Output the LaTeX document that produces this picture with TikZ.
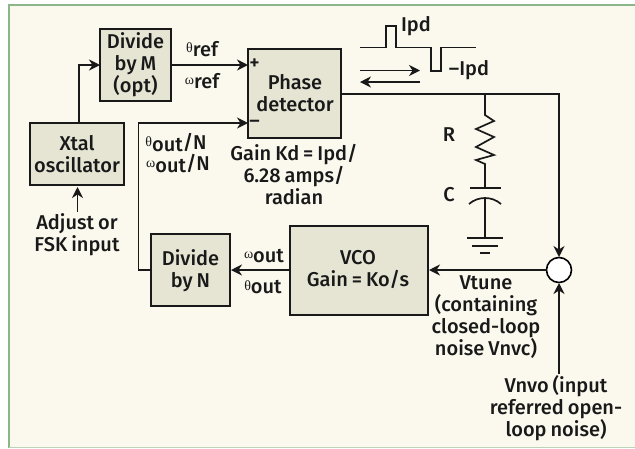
\documentclass[tikz,border=0pt]{standalone}
\usepackage{fontspec}
\setmainfont{Fira Sans Medium}[WordSpace=0.8]
\newfontfamily\greekfont{Liberation Serif}
\usetikzlibrary{arrows.meta}
\definecolor{paper}{HTML}{FBF9EE}
\definecolor{boxfill}{HTML}{E6E5D4}
\definecolor{framegreen}{HTML}{8DB58A}
\newcommand{\grk}[1]{\raisebox{3.5pt}{\greekfont\fontsize{14}{14}\selectfont #1}}
\tikzset{
	txt/.style={font=\fontsize{20}{22}\selectfont, inner sep=0pt, align=center, text=black!90},
	blockbox/.style={draw=black!90, fill=boxfill, line width=2pt},
	wire/.style={line width=1.7pt, draw=black!90},
	arr/.style={wire, -{Stealth[length=11pt,width=11pt,inset=3.5pt]}},
	thin wire/.style={line width=1.3pt, draw=black!90},
}
\begin{document}
\begin{tikzpicture}[x=1pt,y=-1pt]
	\useasboundingbox (0,0) rectangle (635,448);
	\fill[white] (0,0) rectangle (635,448);
	\fill[paper] (9,5) rectangle (635,447);
	\draw[framegreen, line width=2.2pt] (9,448) -- (9,5) -- (635,5);
	\draw[framegreen!60, line width=1.2pt] (9,447.4) -- (635,447.4);

	% blocks
	\draw[blockbox] (100,29) rectangle (171,101);
	\draw (135.5,65) node[txt] (divm) {Divide\\by M\\(opt)};
	\draw[blockbox] (30,123) rectangle (124,185);
	\draw (77,154.5) node[txt] (xtal) {Xtal\\oscillator};
	\draw[blockbox, line width=1.5pt] (248,49) rectangle (341,138);
	\draw (295,93) node[txt] (pd) {Phase\\detector};
	\draw[blockbox] (151,234) rectangle (230,306);
	\draw (190.5,270.5) node[txt] (divn) {Divide\\by N};
	\draw[blockbox] (290,226) rectangle (428,315);
	\draw (358,269.5) node[txt] (vco) {VCO\\Gain = Ko/s};
	\draw[line width=1.6pt, fill=white] (559,270) circle (12.5);
	\coordinate (sum) at (559,270);

	% ports
	\coordinate (divmw) at (100,65);
	\coordinate (divme) at (171,65);
	\coordinate (xtaln) at (79,123);
	\coordinate (xtals) at (77.5,187);
	\coordinate (pdplus) at (248,65);
	\coordinate (pdminus) at (248,123);
	\coordinate (pdout) at (341,94);
	\coordinate (divnw) at (151,270);
	\coordinate (divne) at (231,270);
	\coordinate (vcow) at (290,270);
	\coordinate (vcoe) at (429,270);
	\coordinate (sumw) at (546.5,270);
	\coordinate (sumn) at (559,257);
	\coordinate (sums) at (559,283);
	\coordinate (vnvo) at (559,374);
	\coordinate (adj) at (77.5,212);
	\coordinate (corner) at (559,94);
	\coordinate (tap) at (485,94);
	\coordinate (gnd) at (485,238);

	% signal path
	\draw[arr] (xtaln) |- (divmw);
	\draw[arr] (divme) -- (pdplus);
	\draw[arr] (divnw) -- (138.5,270) |- (pdminus);
	\draw[arr] (pdout) -- (corner) -- (sumn);
	\draw[arr] (sumw) -- (vcoe);
	\draw[arr] (vcow) -- (divne);
	\draw[arr] (vnvo) -- (sums);
	\draw[arr] (adj) -- (xtals);

	% R, C and ground
	\draw[wire] (tap) -- (485,115) -- (494,121) -- (476,129) -- (494,137) -- (476,147) -- (494,155) -- (476,160) -- (485,164) -- (485,188);
	\draw[wire] (470,188) -- (501,188);
	\draw[wire] (469,204) .. controls (478,196) and (492,196) .. (501,204);
	\draw[wire] (485,198) -- (gnd);
	\draw[wire] (467,238) -- (503,238);
	\draw[wire] (472,246) -- (498,246);
	\draw[wire] (480,253) -- (490,253);

	% pulses
	\draw[thin wire] (360,47.5) -- (386,47.5) -- (386,26) -- (396,26) -- (396,47.5) -- (431,47.5) -- (431,71) -- (441,71) -- (441,47.5) -- (476,47.5);
	\coordinate (fwda) at (360,70.5);
	\coordinate (fwdb) at (420,70.5);
	\coordinate (revb) at (360,82);
	\coordinate (reva) at (420,82);
	\draw[arr, thin wire] (fwda) -- (fwdb);
	\draw[arr, thin wire] (reva) -- (revb);

	% labels
	\draw (416,26) node[txt] (ipd) {Ipd};
	\draw (469,70) node[txt] (mipd) {--Ipd};
	\draw (449,135) node[txt] (rlab) {R};
	\draw (449,195) node[txt] (clab) {C};
	\draw (254.5,64) node[txt] (plus) {+};
	\draw (254.5,124) node[txt] (minus) {--};
	\draw (294,174.5) node[txt] (gain) {Gain Kd = Ipd/\\6.28 amps/\\radian};
	\draw (202,49) node[txt] (thref) {\grk{θ}ref};
	\draw (202,81) node[txt] (omref) {\grk{ω}ref};
	\draw (176,143) node[txt] (thout) {\grk{θ}\raisebox{-2pt}{out}/N};
	\draw (178,164) node[txt] (omout) {\grk{ω}\raisebox{-2pt}{out}/N};
	\draw (77,235) node[txt] (adjlab) {Adjust or\\FSK input};
	\draw (264,256) node[txt] (omvco) {\grk{ω}out};
	\draw (263,287) node[txt] (thvco) {\grk{θ}out};
	\draw (486,317.5) node[txt] (vtune) {Vtune\\(containing\\closed-loop\\noise Vnvc)};
	\draw (556,408.5) node[txt] (vnvolab) {Vnvo (input\\referred open-\\loop noise)};
\end{tikzpicture}
\end{document}
